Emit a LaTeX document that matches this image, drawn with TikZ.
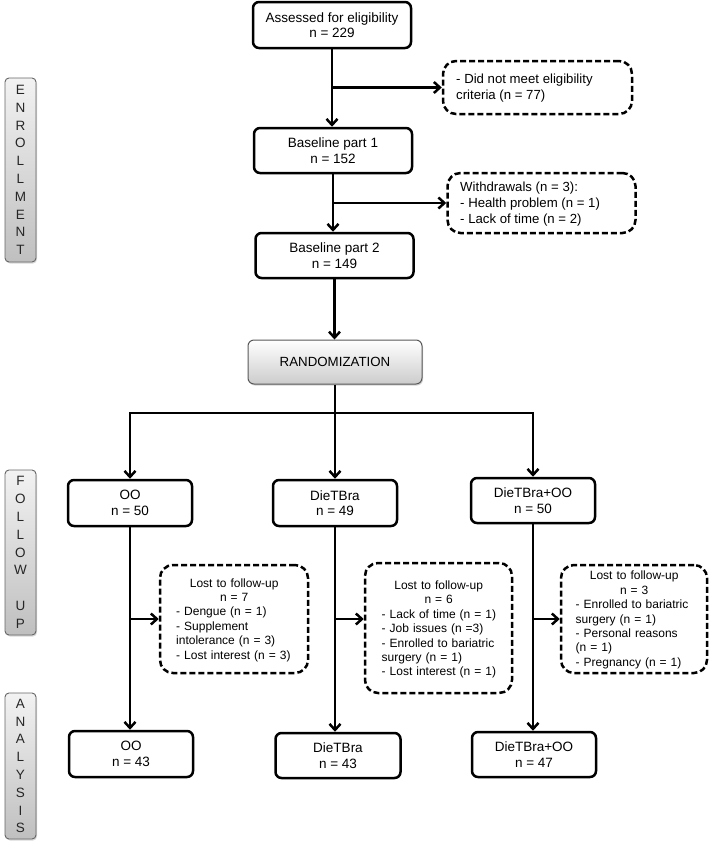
\documentclass[tikz,border=0pt]{standalone}
\usepackage{fontspec}
\setmainfont{Liberation Sans}
\usetikzlibrary{arrows.meta,shadows}
\begin{document}
\begin{tikzpicture}[x=1pt,y=-1pt,
  box/.style={draw, line width=2.5pt, rounded corners=6pt, inner sep=0pt, align=center,
    font=\fontsize{13.5}{15.5}\selectfont},
  dbox/.style={draw, line width=2.5pt, dash pattern=on 6pt off 3pt, rounded corners=13pt,
    inner sep=0pt},
  toptext/.style={anchor=west, inner sep=0pt, align=left, font=\fontsize{13.2}{16}\selectfont},
  futext/.style={anchor=west, inner sep=0pt, text width=130pt, align=left, font=\fontsize{12}{14.4}\selectfont},
  randbox/.style={draw=black!65, line width=1pt, rounded corners=6pt, inner sep=0pt,
    top color=white, bottom color=black!20, font=\fontsize{13.3}{15.5}\selectfont,
    drop shadow={shadow xshift=1pt, shadow yshift=-1.5pt, opacity=0.35}},
  lab/.style={draw=black!60, line width=0.9pt, rounded corners=4pt, inner sep=0pt,
    top color=black!5, bottom color=black!25, minimum width=31pt, align=center,
    text=black!85, font=\fontsize{13.5}{17.8}\selectfont,
    drop shadow={shadow xshift=1pt, shadow yshift=-1.5pt, opacity=0.3}},
  arr/.style={line width=2.5pt, -{Straight Barb[length=6pt,width=11pt]}}
]
\fill[white] (0,0) rectangle (709,846);
\useasboundingbox (0,0) rectangle (709,846);

% side labels
\node[lab, minimum height=184pt] (enr) at (20.5,170) {E\\N\\R\\O\\L\\L\\M\\E\\N\\T};
\node[lab, minimum height=165pt] (fol) at (20.5,552.5) {F\\O\\L\\L\\O\\W\\\mbox{}\\U\\P};
\node[lab, minimum height=146pt] (ana) at (20.5,766) {A\\N\\A\\L\\Y\\S\\I\\S};

% main column
\node[box, minimum width=158pt, minimum height=46pt] (assess) at (332,25) {Assessed for eligibility\\n = 229};
\node[box, minimum width=158pt, minimum height=45pt] (base1) at (333,150.5) {Baseline part 1\\n = 152};
\node[box, minimum width=158pt, minimum height=45pt] (base2) at (334.5,255.5) {Baseline part 2\\n = 149};
\node[randbox, minimum width=174pt, minimum height=44pt] (rand) at (335,362) {RANDOMIZATION};

% exclusion boxes
\node[dbox, minimum width=189pt, minimum height=53pt] (ex1) at (537.5,87.5) {};
\node[toptext] (ex1t) at (456,88.5) {- Did not meet eligibility\\criteria (n = 77)};
\node[dbox, minimum width=188pt, minimum height=60pt] (ex2) at (541.5,203) {};
\node[toptext] (ex2t) at (460,204) {Withdrawals (n = 3):\\- Health problem (n = 1)\\- Lack of time (n = 2)};

% arms
\node[box, minimum width=124pt, minimum height=46pt] (oo1) at (130,503) {OO\\n = 50};
\node[box, minimum width=124pt, minimum height=46pt] (dt1) at (335,503) {DieTBra\\n = 49};
\node[box, minimum width=124pt, minimum height=45pt] (dto1) at (533,500.5) {DieTBra+OO\\n = 50};

\node[box, minimum width=124pt, minimum height=46pt] (oo2) at (131,754) {OO\\n = 43};
\node[box, minimum width=125pt, minimum height=45pt] (dt2) at (338,755.5) {DieTBra\\n = 43};
\node[box, minimum width=124pt, minimum height=45pt] (dto2) at (534,754.5) {DieTBra+OO\\n = 47};

% lost to follow-up boxes
\node[dbox, minimum width=148pt, minimum height=108pt] (lf1) at (234,619) {};
\node[futext] (lf1t) at (176,620) {\makebox[116pt]{Lost to follow-up}\\\makebox[116pt]{n = 7}\\- Dengue (n = 1)\\- Supplement\\intolerance (n = 3)\\- Lost interest (n = 3)};
\node[dbox, minimum width=147pt, minimum height=130pt] (lf2) at (438.5,628) {};
\node[futext] (lf2t) at (381.5,629.5) {\makebox[114pt]{Lost to follow-up}\\\makebox[114pt]{n = 6}\\- Lack of time (n = 1)\\- Job issues (n =3)\\- Enrolled to bariatric\\surgery (n = 1)\\- Lost interest (n = 1)};
\node[dbox, minimum width=146pt, minimum height=108pt] (lf3) at (634,619) {};
\node[futext] (lf3t) at (575.5,620) {\makebox[117pt]{Lost to follow-up}\\\makebox[117pt]{n = 3}\\- Enrolled to bariatric\\surgery (n = 1)\\- Personal reasons\\(n = 1)\\- Pregnancy (n = 1)};

% connectors: enrollment
\draw[arr] (assess.south) -- (assess.south |- base1.north);
\draw[arr] (assess.south |- ex1.west) -- (ex1.west);
\draw[arr] (base1.south) -- (base1.south |- base2.north);
\draw[arr] (base1.south |- ex2.west) -- (ex2.west);
\draw[arr] (base2.south) -- (base2.south |- rand.north);

% randomization split
\coordinate (split) at (335,413);
\draw[arr] (rand.south) -- (rand.south |- dt1.north);
\draw[line width=2.5pt, {Straight Barb[length=6pt,width=11pt]}-{Straight Barb[length=6pt,width=11pt]}]
  (oo1.north) -- (oo1.north |- split) -- (dto1.north |- split) -- (dto1.north);

% follow-up trunks
\draw[arr] (oo1.south) -- (oo1.south |- oo2.north);
\draw[arr] (oo1.south |- lf1.west) -- (lf1.west);
\draw[arr] (dt1.south) -- (dt1.south |- dt2.north);
\draw[arr] (dt1.south |- lf1.west) -- (lf2.west |- lf1.west);
\draw[arr] (dto1.south) -- (dto1.south |- dto2.north);
\draw[arr] (dto1.south |- lf3.west) -- (lf3.west);
\end{tikzpicture}
\end{document}
